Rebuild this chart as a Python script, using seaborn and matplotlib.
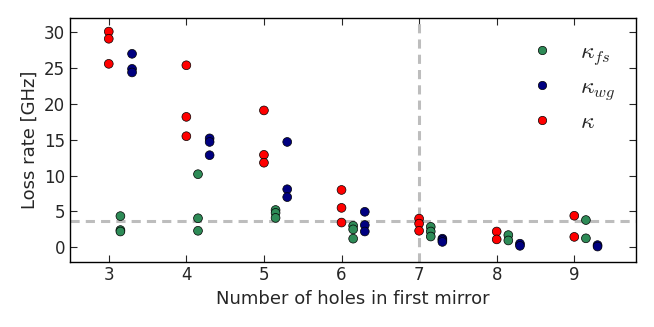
import numpy as np
import pandas as pd
import matplotlib
matplotlib.use("Agg")
import matplotlib.pyplot as plt
import seaborn as sns

# loss rates [GHz] per number of holes in first mirror
holes = [3, 4, 5, 6, 7, 8, 9]
kappa_fs = [[4.35, 2.4, 2.2], [10.2, 4.05, 2.3], [5.2, 4.8, 4.1], [3.0, 2.5, 1.2],
            [2.85, 2.2, 1.5], [1.7, 0.95], [3.8, 1.25]]
kappa_wg = [[27.0, 24.9, 24.4], [15.2, 14.7, 12.85], [14.7, 8.1, 7.0], [4.95, 3.1, 2.2],
            [1.2, 1.0, 0.75], [0.5, 0.2], [0.3, 0.1]]
kappa = [[30.1, 29.1, 25.6], [25.4, 18.2, 15.5], [19.1, 12.9, 11.8], [8.0, 5.5, 3.45],
         [4.0, 3.3, 2.3], [2.2, 1.1], [4.4, 1.45]]
labels = [r"$\kappa_{fs}$", r"$\kappa_{wg}$", r"$\kappa$"]
colors = ["#2e8b57", "#000080", "#ff0000"]
threshold = 3.65
chosen_holes = 7

rows = []
for lab, series, shift in zip(labels, [kappa_fs, kappa_wg, kappa], [0.15, 0.3, 0.0]):
    for h, vals in zip(holes, series):
        for v in vals:
            rows.append({"holes": h + shift, "rate": v, "kind": lab})
df = pd.DataFrame(rows)

sns.set_style("ticks")
plt.rcParams["font.family"] = ["DejaVu Sans"]
plt.rcParams["mathtext.fontset"] = "cm"

fig, ax = plt.subplots(figsize=(6.54, 3.27), dpi=100)
sns.scatterplot(data=df, x="holes", y="rate", hue="kind", hue_order=labels,
                palette=colors, s=40, edgecolor="black", linewidth=0.5, ax=ax, zorder=3)

ax.axhline(threshold, color="#bdbdbd", ls="--", lw=2.2, dashes=(3, 2), zorder=1)
ax.axvline(chosen_holes, color="#bdbdbd", ls="--", lw=2.2, dashes=(3, 2), zorder=1)

ax.set_xlim(2.5, 9.8)
ax.set_ylim(-2, 32)
ax.set_xticks(holes)
ax.set_yticks([0, 5, 10, 15, 20, 25, 30])
ax.set_xlabel("Number of holes in first mirror", fontsize=13)
ax.set_ylabel("Loss rate [GHz]", fontsize=13)
ax.tick_params(direction="in", top=True, right=True, labelsize=12, length=5, width=0.8)
for sp in ax.spines.values():
    sp.set_visible(True)
    sp.set_color("black")
    sp.set_linewidth(1)

leg = ax.legend(loc="upper right", frameon=False, fontsize=17, labelspacing=0.3,
                handlelength=1.0, handletextpad=1.1, borderaxespad=0.5, markerscale=0.95)

fig.subplots_adjust(left=0.107, right=0.973, top=0.945, bottom=0.2)
fig.savefig("out.png", dpi=100)
